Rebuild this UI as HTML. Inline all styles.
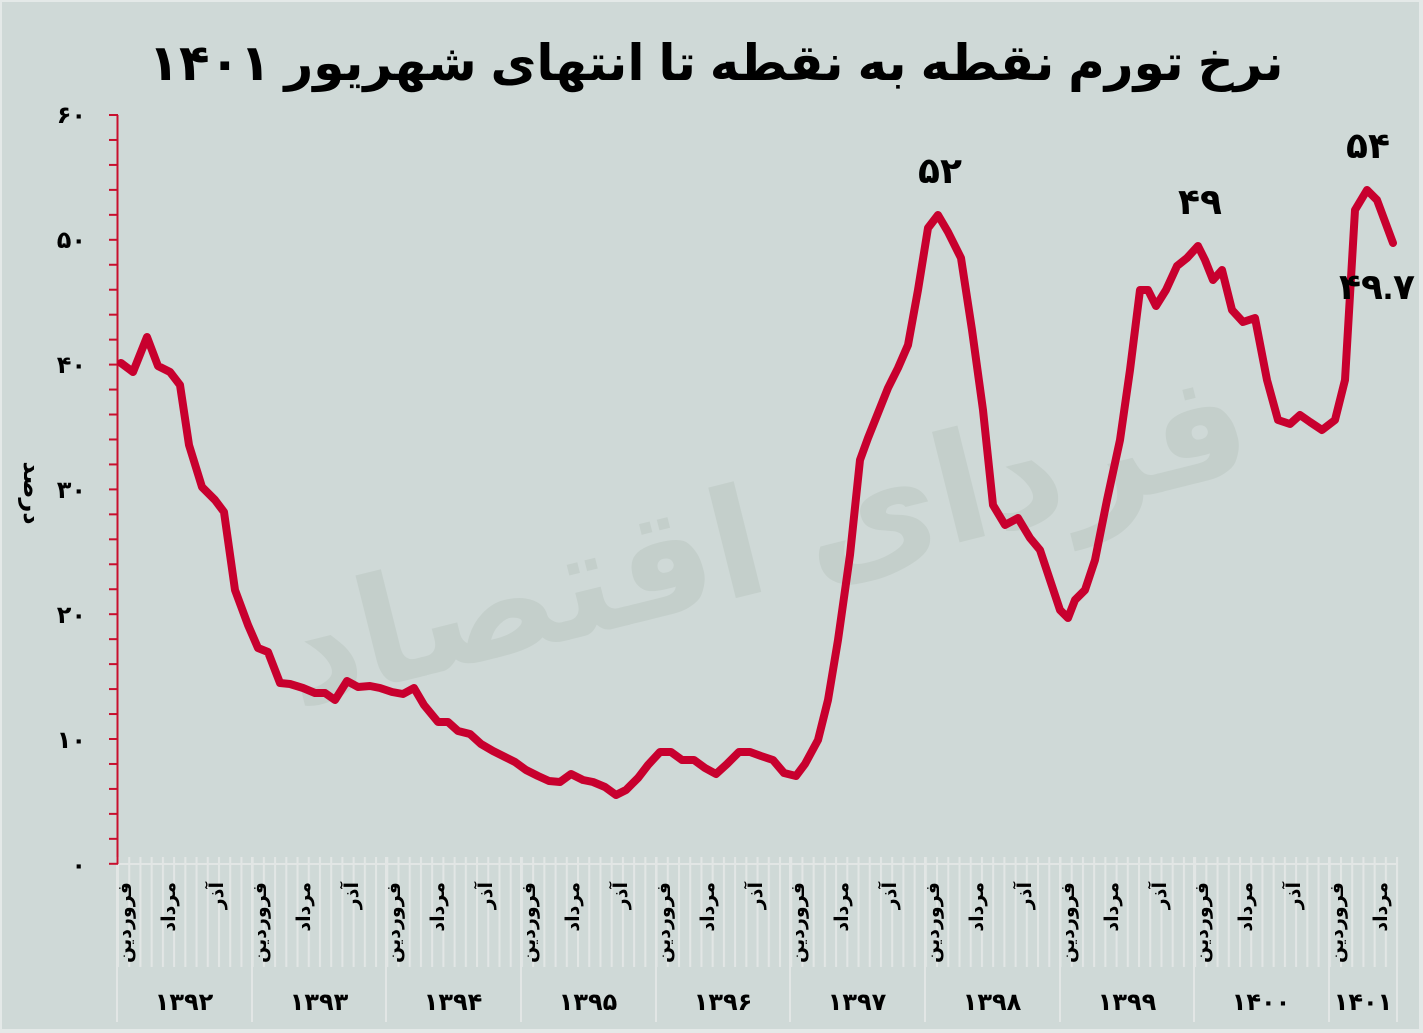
<!DOCTYPE html>
<html><head><meta charset="utf-8">
<style>
html,body{margin:0;padding:0;background:#e6ebea;}
svg{display:block;font-family:"Liberation Sans","DejaVu Sans","Noto Sans CJK SC",sans-serif;}
</style></head>
<body>
<svg width="1423" height="1033" viewBox="0 0 1423 1033" xmlns="http://www.w3.org/2000/svg">
<defs>
<pattern id="mg" x="117" y="857" width="11.22" height="110" patternUnits="userSpaceOnUse">
<line x1="1" y1="0" x2="1" y2="110" stroke="#e2e6e5" stroke-width="2"/>
</pattern>
<pattern id="yt" x="108" y="114" width="10" height="24.96" patternUnits="userSpaceOnUse">
<line x1="0" y1="1" x2="10" y2="1" stroke="#c8102e" stroke-width="2"/>
</pattern>
</defs>
<rect x="0" y="0" width="1423" height="1033" fill="#e4e9e8"/>
<rect x="2" y="2" width="1417" height="1027" fill="#cfd9d7"/>
<!-- watermark -->
<text x="760" y="590" font-size="150" font-weight="bold" fill="#bcc8c2" opacity="0.55" text-anchor="middle" transform="rotate(-14 760 520)">فردای اقتصاد</text>
<!-- title -->
<text x="716" y="80" font-size="50" font-weight="bold" fill="#000" text-anchor="middle">نرخ تورم نقطه به نقطه تا انتهای شهریور ۱۴۰۱</text>
<!-- bottom grid -->
<rect x="116" y="857" width="1283" height="110" fill="url(#mg)"/>
<line x1="117" y1="864" x2="1397" y2="864" stroke="#e2e6e5" stroke-width="2"/>
<g stroke="#e2e6e5" stroke-width="2">
<line x1="117" y1="857" x2="117" y2="1022"/>
<line x1="252" y1="857" x2="252" y2="1022"/>
<line x1="386" y1="857" x2="386" y2="1022"/>
<line x1="521" y1="857" x2="521" y2="1022"/>
<line x1="656" y1="857" x2="656" y2="1022"/>
<line x1="790" y1="857" x2="790" y2="1022"/>
<line x1="925" y1="857" x2="925" y2="1022"/>
<line x1="1060" y1="857" x2="1060" y2="1022"/>
<line x1="1194" y1="857" x2="1194" y2="1022"/>
<line x1="1329" y1="857" x2="1329" y2="1022"/>
<line x1="1397" y1="857" x2="1397" y2="1022"/>
</g>
<!-- y axis -->
<rect x="109" y="114" width="9" height="752" fill="url(#yt)"/>
<line x1="117.5" y1="115" x2="117.5" y2="864" stroke="#c8102e" stroke-width="2"/>
<g font-size="24" font-weight="bold" fill="#000" text-anchor="end">
<text x="86" y="123">۶۰</text>
<text x="86" y="248">۵۰</text>
<text x="86" y="373">۴۰</text>
<text x="86" y="498">۳۰</text>
<text x="86" y="623">۲۰</text>
<text x="86" y="748">۱۰</text>
<text x="86" y="873">۰</text>
</g>
<text transform="translate(24,493) rotate(90)" font-size="24" font-weight="bold" text-anchor="middle">درصد</text>
<g font-size="19" font-weight="bold" fill="#000" text-anchor="end">
<text transform="translate(131,882) rotate(-90)">فروردین</text>
<text transform="translate(266,882) rotate(-90)">فروردین</text>
<text transform="translate(400,882) rotate(-90)">فروردین</text>
<text transform="translate(535,882) rotate(-90)">فروردین</text>
<text transform="translate(670,882) rotate(-90)">فروردین</text>
<text transform="translate(804,882) rotate(-90)">فروردین</text>
<text transform="translate(939,882) rotate(-90)">فروردین</text>
<text transform="translate(1074,882) rotate(-90)">فروردین</text>
<text transform="translate(1208,882) rotate(-90)">فروردین</text>
<text transform="translate(1343,882) rotate(-90)">فروردین</text>
<text transform="translate(175,882) rotate(-90)">مرداد</text>
<text transform="translate(310,882) rotate(-90)">مرداد</text>
<text transform="translate(444,882) rotate(-90)">مرداد</text>
<text transform="translate(579,882) rotate(-90)">مرداد</text>
<text transform="translate(714,882) rotate(-90)">مرداد</text>
<text transform="translate(848,882) rotate(-90)">مرداد</text>
<text transform="translate(983,882) rotate(-90)">مرداد</text>
<text transform="translate(1118,882) rotate(-90)">مرداد</text>
<text transform="translate(1252,882) rotate(-90)">مرداد</text>
<text transform="translate(1387,882) rotate(-90)">مرداد</text>
<text transform="translate(223,882) rotate(-90)">آذر</text>
<text transform="translate(358,882) rotate(-90)">آذر</text>
<text transform="translate(492,882) rotate(-90)">آذر</text>
<text transform="translate(627,882) rotate(-90)">آذر</text>
<text transform="translate(762,882) rotate(-90)">آذر</text>
<text transform="translate(896,882) rotate(-90)">آذر</text>
<text transform="translate(1031,882) rotate(-90)">آذر</text>
<text transform="translate(1166,882) rotate(-90)">آذر</text>
<text transform="translate(1300,882) rotate(-90)">آذر</text>
</g>
<g font-size="24" font-weight="bold" fill="#000" text-anchor="middle">
<text x="184" y="1010">۱۳۹۲</text>
<text x="319" y="1010">۱۳۹۳</text>
<text x="453" y="1010">۱۳۹۴</text>
<text x="588" y="1010">۱۳۹۵</text>
<text x="723" y="1010">۱۳۹۶</text>
<text x="857" y="1010">۱۳۹۷</text>
<text x="992" y="1010">۱۳۹۸</text>
<text x="1127" y="1010">۱۳۹۹</text>
<text x="1261" y="1010">۱۴۰۰</text>
<text x="1363" y="1010">۱۴۰۱</text>
</g>
<polyline fill="none" stroke="#c8002e" stroke-width="8" stroke-linejoin="round" stroke-linecap="round" points="121,363 133,372 147,337 158,366 170,372 180,385 189,445 202,487 215,500 224,512 235,590 248,625 258,648 268,652 280,683 290,684 303,688 315,693 325,693 335,700 347,681 358,687 370,686 380,688 392,692 403,694 414,688 424,705 438,722 448,722 458,731 470,734 481,744 493,751 505,757 515,762 526,770 538,776 549,781 560,782 571,774 583,780 593,782 605,787 616,795 626,790 638,778 648,765 660,752 671,752 682,760 694,760 705,768 716,774 727,764 739,752 750,752 761,756 773,760 784,773 796,776 805,764 818,740 828,700 838,640 850,555 860,460 868,438 878,413 888,388 898,368 908,345 918,290 928,228 938,215 948,232 961,258 972,330 983,410 993,505 1005,525 1018,518 1030,538 1040,550 1050,580 1060,610 1068,618 1075,600 1085,590 1095,560 1107,500 1120,440 1130,370 1140,290 1148,290 1156,306 1166,290 1177,266 1187,258 1198,246 1205,260 1213,280 1222,270 1232,310 1243,322 1255,318 1267,380 1278,420 1290,424 1300,415 1310,422 1322,430 1335,420 1345,380 1355,210 1367,190 1377,200 1393,243"/>
<g font-size="36" font-weight="bold" fill="#000" text-anchor="middle">
<text x="940" y="183">۵۲</text>
<text x="1200" y="214">۴۹</text>
<text x="1368" y="158">۵۴</text>
<text x="1377" y="299">۴۹.۷</text>
</g>
</svg>
</body></html>
